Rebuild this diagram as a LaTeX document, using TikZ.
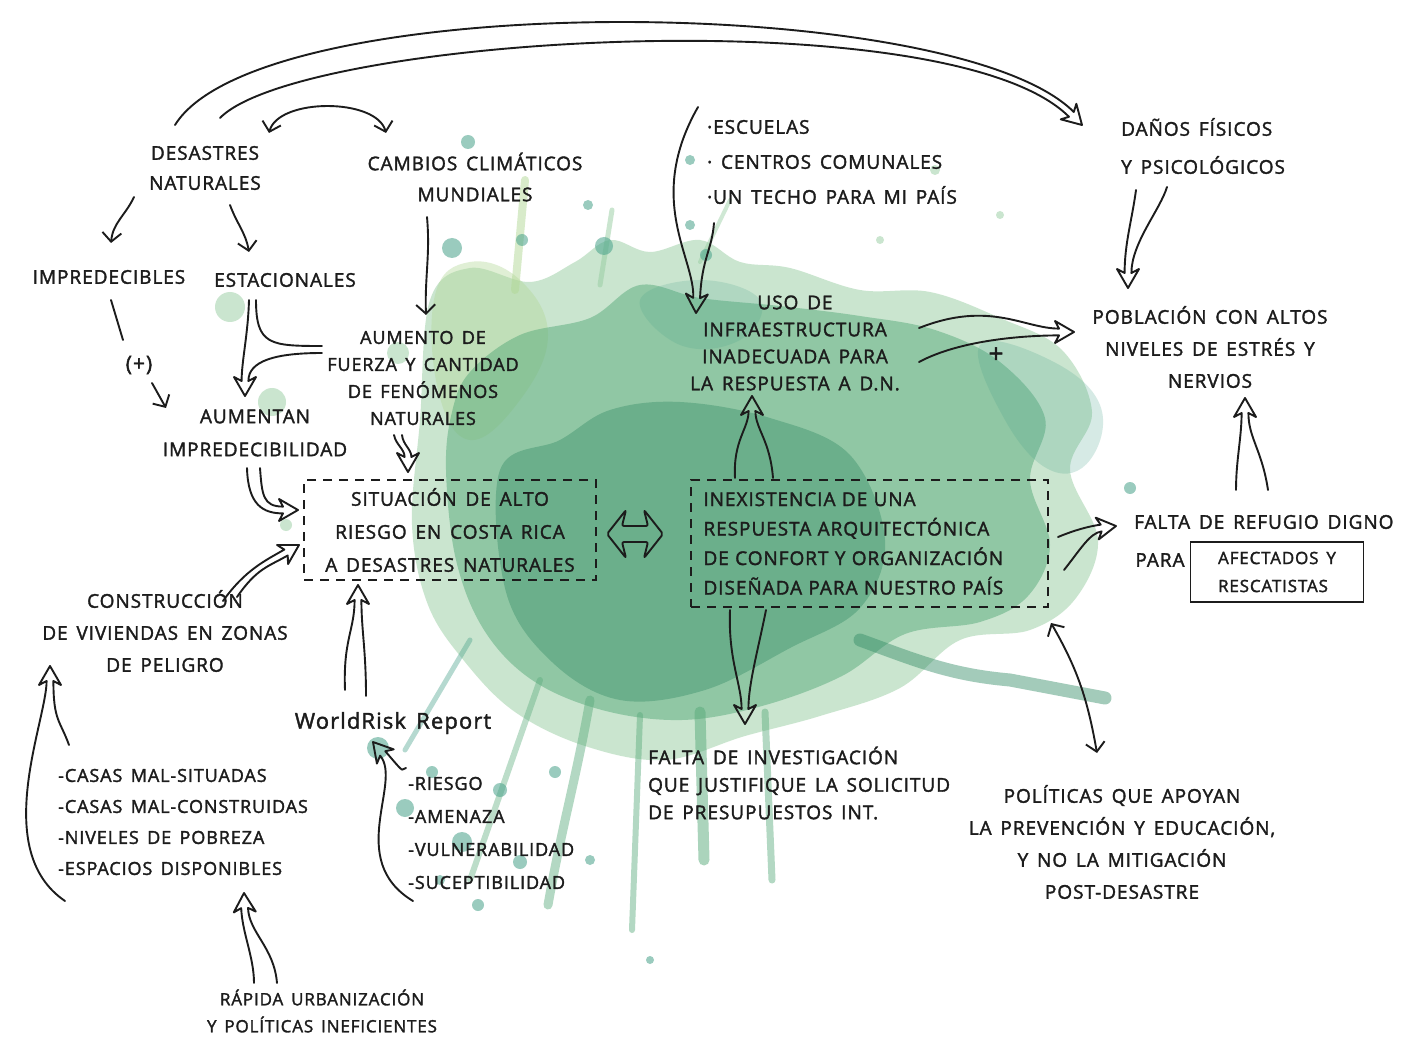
\documentclass[tikz,border=0pt]{standalone}
\usepackage{fontspec}
\setmainfont{Open Sans}[LetterSpace=5,WordSpace=1.5,FakeBold=1.8]
\usetikzlibrary{arrows.meta,calc}
\definecolor{ink}{RGB}{28,28,28}
\definecolor{wcL}{RGB}{150,205,160}
\definecolor{wcM}{RGB}{88,170,122}
\definecolor{wcD}{RGB}{52,140,102}
\definecolor{wcY}{RGB}{178,216,150}
\definecolor{wcT}{RGB}{72,162,138}
\tikzset{
  fs/.style 2 args={font=\fontsize{#1}{#2}\selectfont},
  txt/.style={fs={19}{31}, text=ink, align=center, inner sep=2pt},
  ln/.style={line width=1.9pt, draw=ink, line cap=round, line join=round},
  sarr/.style={ln, -{Straight Barb[length=9pt,width=19pt]}},
  sarrb/.style={ln, {Straight Barb[length=9pt,width=19pt]}-{Straight Barb[length=9pt,width=19pt]}},
  dbox/.style={draw=ink, line width=1.5pt, dash pattern=on 9pt off 7pt},
}
% converging double arrow: s1, c1, s2, c2, direction point, tip, behind
\newcommand{\convarr}[7]{%
  \coordinate (cvT) at (#6);
  \coordinate (cvN) at ($(cvT)!15pt!(#5)$);
  \coordinate (cvB) at ($(cvN)!-#7!(cvT)$);
  \coordinate (cvQ) at ($(cvN)!-4pt!(cvT)$);
  \draw[ln] (#1) .. controls (#2) and ($(cvB)!3.4pt!90:(cvN)$) .. ($(cvN)!3.4pt!90:(cvT)$)
     -- ($(cvQ)!11pt!90:(cvT)$) -- (cvT) -- ($(cvQ)!11pt!-90:(cvT)$)
     -- ($(cvN)!3.4pt!-90:(cvT)$) .. controls ($(cvB)!3.4pt!-90:(cvN)$) and (#4) .. (#3);
}
\begin{document}
\begin{tikzpicture}[x=1pt,y=-1pt]
\useasboundingbox (0,0) rectangle (1408,1040);
\fill[white] (0,0) rectangle (1408,1040);
% ---------------- watercolour splash ----------------
\fill[wcL, opacity=.5] plot[smooth cycle, tension=.6] coordinates {(430,300) (470,268) (530,282) (575,262) (610,240) (650,252) (700,240) (740,262) (790,268) (860,290) (930,292) (1000,318) (1062,350) (1092,412) (1070,470) (1098,540) (1076,598) (1030,630) (960,640) (900,688) (820,716) (745,736) (665,760) (585,746) (515,712) (465,662) (428,605) (412,525) (420,420)};
\fill[wcY, opacity=.4] plot[smooth cycle, tension=.7] coordinates {(435,295) (470,262) (520,280) (548,335) (520,400) (470,440) (438,390)};
\fill[wcM, opacity=.5] plot[smooth cycle, tension=.6] coordinates {(470,372) (520,335) (590,318) (640,285) (700,298) (780,306) (860,316) (935,330) (1000,362) (1045,418) (1030,480) (1050,545) (1028,596) (980,622) (905,634) (842,676) (762,706) (682,720) (602,710) (532,680) (484,630) (456,560) (446,470) (452,412)};
\fill[wcD, opacity=.4] plot[smooth cycle, tension=.6] coordinates {(500,470) (560,440) (610,410) (680,402) (770,418) (850,455) (885,540) (860,608) (790,648) (705,690) (620,700) (552,662) (506,592)};
\fill[wcT, opacity=.22] plot[smooth cycle, tension=.7] coordinates {(980,345) (1050,360) (1100,405) (1090,460) (1050,470) (1005,420)};
\fill[wcT, opacity=.2] plot[smooth cycle, tension=.7] coordinates {(640,300) (700,280) (760,300) (740,340) (680,345)};
\begin{scope}[line cap=round]
  \draw[wcM, opacity=.45, line width=9pt] (590,700) to[out=-100,in=80] (548,905);
  \draw[wcM, opacity=.45, line width=6pt] (640,715) -- (632,930);
  \draw[wcM, opacity=.5, line width=11pt] (700,712) -- (704,860);
  \draw[wcM, opacity=.45, line width=7pt] (765,712) -- (772,880);
  \draw[wcM, opacity=.4, line width=6pt] (540,680) -- (470,880);
  \draw[wcD, opacity=.45, line width=13pt] (860,640) to[out=-20,in=175] (1010,680) -- (1105,698);
  \draw[wcT, opacity=.4, line width=5pt] (470,640) -- (405,750);
  \draw[wcY, opacity=.5, line width=8pt] (515,290) -- (525,180);
  \draw[wcL, opacity=.5, line width=5pt] (600,285) -- (612,210);
  \draw[wcL, opacity=.45, line width=4pt] (700,262) -- (730,200);
\end{scope}
\foreach \x/\y/\r in {468/142/7, 452/248/10, 522/240/6, 604/246/9, 588/205/5, 690/160/5, 690/225/5, 706/255/6, 378/748/11, 405/808/9, 432/772/6, 462/842/10, 520/862/7, 478/905/6, 440/880/5, 500/790/7, 555/772/6, 590/860/5, 1130/488/6, 650/960/4}
  \fill[wcT, opacity=.55] (\x,\y) circle[radius=\r];
\foreach \x/\y/\r in {230/307/15, 272/402/14, 398/353/11, 286/525/6, 935/170/5, 1000/215/4, 880/240/4}
  \fill[wcL, opacity=.5] (\x,\y) circle[radius=\r];
% ---------------- ink ----------------
\node[txt, fs={19}{30}] (des) at (205,168) {DESASTRES\\NATURALES};
\node[txt] (cam) at (475,177) {CAMBIOS CLIMÁTICOS\\MUNDIALES};
\node[txt] (imp) at (109,277) {IMPREDECIBLES};
\node[txt] (est) at (285,280) {ESTACIONALES};
\node[txt, fs={21}{25}] (plus1) at (139,365) {(+)};
\node[txt, fs={19}{33}] (aum) at (255,433) {AUMENTAN\\IMPREDECIBILIDAD};
\node[txt, fs={18}{27}] (aumf) at (423,378) {AUMENTO DE\\FUERZA Y CANTIDAD\\DE FENÓMENOS\\NATURALES};
\node[txt, fs={19}{33}, dbox, minimum width=292pt, minimum height=100pt] (sit) at (450,530) {SITUACIÓN DE ALTO\\RIESGO EN COSTA RICA\\A DESASTRES NATURALES};
\node[txt, align=left, text width=332pt, fs={19}{29.5}, dbox, minimum width=357pt, minimum height=127pt] (inex) at (869.5,543.5) {INEXISTENCIA DE UNA\\RESPUESTA ARQUITECTÓNICA\\DE CONFORT Y ORGANIZACIÓN\\DISEÑADA PARA NUESTRO PAÍS};
\node[txt, fs={19}{27}] (uso) at (795,343) {USO DE\\INFRAESTRUCTURA\\INADECUADA PARA\\LA RESPUESTA A D.N.};
\node[txt, align=left, anchor=west, fs={19}{35}] (esc) at (705,162) {·ESCUELAS\\· CENTROS COMUNALES\\·UN TECHO PARA MI PAÍS};
\node[txt, align=left, anchor=west, fs={19}{38}] (danos) at (1119,146) {DAÑOS FÍSICOS\\Y PSICOLÓGICOS};
\node[txt, fs={19}{32}] (pob) at (1210,347) {POBLACIÓN CON ALTOS\\NIVELES DE ESTRÉS Y\\NERVIOS};
\node[txt, fs={26}{30}] (plus2) at (996,355) {+};
\node[txt, anchor=west] (falta) at (1132,522) {FALTA DE REFUGIO DIGNO};
\node[txt] (para) at (1160,560) {PARA};
\node[txt, align=left, fs={17}{28}, draw=ink, line width=1.5pt, minimum width=173pt, minimum height=60pt] (afect) at (1277,572) {AFECTADOS Y\\RESCATISTAS};
\node[txt, align=left, anchor=west, fs={19}{27.5}] (inv) at (646,783) {FALTA DE INVESTIGACIÓN\\QUE JUSTIFIQUE LA SOLICITUD\\DE PRESUPUESTOS INT.};
\node[txt, fs={19}{32}] (pol) at (1122,842) {POLÍTICAS QUE APOYAN\\LA PREVENCIÓN Y EDUCACIÓN,\\Y NO LA MITIGACIÓN\\POST-DESASTRE};
\node[txt, fs={19}{32}] (cons) at (165,631) {CONSTRUCCIÓN\\DE VIVIENDAS EN ZONAS\\DE PELIGRO};
\node[txt, align=left, anchor=west, fs={18}{31}] (casas) at (56,822) {-CASAS MAL-SITUADAS\\-CASAS MAL-CONSTRUIDAS\\-NIVELES DE POBREZA\\-ESPACIOS DISPONIBLES};
\node[txt, fs={22}{26}] (wrr) at (393,723) {WorldRisk Report};
\node[txt, align=left, anchor=west, fs={18}{33}] (rie) at (406,833) {-RIESGO\\-AMENAZA\\-VULNERABILIDAD\\-SUCEPTIBILIDAD};
\node[txt, fs={17}{27}] (rap) at (322,1011) {RÁPIDA URBANIZACIÓN\\Y POLÍTICAS INEFICIENTES};
% ---- connectors ----
% big arc DESASTRES => DAÑOS
\convarr{[shift={(-30,-43)}]des.center}{260,-12}{[shift={(15,-50)}]des.center}{300,36}{[shift={(-59,-43)}]danos.west}{[shift={(-37,-21)}]danos.west}{170pt}
% DESASTRES <-> CAMBIOS
\draw[sarrb] ([shift={(64,-35)}]des.center) to[out=75,in=105,looseness=.8] ([shift={(-89,-44)}]cam.center);
\draw[sarr] ([shift={(-71,29)}]des.center) to[out=-115,in=85] ([shift={(2,-34)}]imp.center);
\draw[sarr] ([shift={(25,37)}]des.center) to[out=-70,in=100] ([shift={(-36,-28)}]est.center);
\draw[sarr] ([shift={(-48,40)}]cam.center) to[out=-85,in=92] ([shift={(3,-63)}]aumf.center);
\draw[ln] ([shift={(2,23)}]imp.center) -- ([shift={(-16,-25)}]plus1.center);
\draw[sarr] ([shift={(13,18)}]plus1.center) -- ([shift={(-89,-25)}]aum.center);
% ESTACIONALES + AUMENTO => AUMENTAN
\convarr{[shift={(-101,-25)}]aumf.center}{[shift={(-148,-25)}]aumf.center}{[shift={(-36,20)}]est.center}{[shift={(-37,55)}]est.center}{[shift={(-10,-63)}]aum.center}{[shift={(-10,-37)}]aum.center}{20pt}
\draw[ln] ([shift={(-29,20)}]est.center) .. controls ([shift={(-29,65)}]est.center) and ([shift={(-153,-32)}]aumf.center) .. ([shift={(-101,-32)}]aumf.center);
% into SITUACION
\convarr{[shift={(5,35)}]aum.center}{[shift={(7,62)}]aum.center}{[shift={(-8,35)}]aum.center}{[shift={(-7,72)}]aum.center}{[shift={(-175,-20)}]sit.center}{[shift={(-152,-20)}]sit.center}{20pt}
\convarr{[shift={(-21,57)}]aumf.center}{[shift={(-20,67)}]aumf.center}{[shift={(-29,57)}]aumf.center}{[shift={(-27,67)}]aumf.center}{[shift={(-42,-80)}]sit.center}{[shift={(-42,-58)}]sit.center}{8pt}
\convarr{[shift={(58,-30)}]cons.center}{[shift={(80,-61)}]cons.center}{[shift={(72,-34)}]cons.center}{[shift={(92,-63)}]cons.center}{[shift={(-170,26)}]sit.center}{[shift={(-151,15)}]sit.center}{22pt}
\convarr{[shift={(-48,-33)}]wrr.center}{[shift={(-50,-83)}]wrr.center}{[shift={(-27,-27)}]wrr.center}{[shift={(-27,-73)}]wrr.center}{[shift={(-92,80)}]sit.center}{[shift={(-92,55)}]sit.center}{30pt}
% SITUACION <=> INEXISTENCIA
\draw[ln, rounded corners=2pt, shift={(sit.center)}] (172,-4) -- (198,-4) -- (194,-20) -- (213,4) -- (194,28) -- (198,12) -- (172,12) -- (176,28) -- (157,4) -- (176,-20) -- cycle;
% INEXISTENCIA => USO
\convarr{[shift={(-134.5,-65.5)}]inex.center}{[shift={(-136.5,-103.5)}]inex.center}{[shift={(-96.5,-65.5)}]inex.center}{[shift={(-99.5,-103.5)}]inex.center}{[shift={(-43,77)}]uso.center}{[shift={(-43,53)}]uso.center}{18pt}
% ESCUELAS => USO
\convarr{[shift={(9,61)}]esc.west}{[shift={(7,88)}]esc.west}{[shift={(-7,-55)}]esc.west}{[shift={(-60,38)}]esc.west}{[shift={(-98,-53)}]uso.center}{[shift={(-99,-30)}]uso.center}{40pt}
% USO => POBLACION
\convarr{[shift={(124,-15)}]uso.center}{[shift={(195,-43)}]uso.center}{[shift={(124,19)}]uso.center}{[shift={(165,-3)}]uso.center}{[shift={(-162,-15)}]pob.center}{[shift={(-136,-15)}]pob.center}{35pt}
% DAÑOS => POBLACION
\convarr{[shift={(48,41)}]danos.west}{[shift={(41,64)}]danos.west}{[shift={(17,44)}]danos.west}{[shift={(13,74)}]danos.west}{[shift={(-82,-85)}]pob.center}{[shift={(-82,-59)}]pob.center}{30pt}
% FALTA DE REFUGIO => POBLACION
\convarr{[shift={(104,-32)}]falta.west}{[shift={(104,-62)}]falta.west}{[shift={(136,-32)}]falta.west}{[shift={(130,-72)}]falta.west}{[shift={(35,75)}]pob.center}{[shift={(35,51)}]pob.center}{25pt}
% INEXISTENCIA => FALTA DE REFUGIO
\convarr{[shift={(188.5,-6.5)}]inex.center}{[shift={(205.5,-13.5)}]inex.center}{[shift={(194.5,26.5)}]inex.center}{[shift={(210.5,6.5)}]inex.center}{[shift={(-38,7)}]falta.west}{[shift={(-16,4)}]falta.west}{12pt}
% INEXISTENCIA => FALTA DE INVESTIGACION
\convarr{[shift={(-103.5,66.5)}]inex.center}{[shift={(-111.5,106.5)}]inex.center}{[shift={(-139.5,66.5)}]inex.center}{[shift={(-141.5,116.5)}]inex.center}{[shift={(99,-83)}]inv.west}{[shift={(99,-59)}]inv.west}{25pt}
% POLITICAS <-> INEXISTENCIA
\draw[sarrb] ([shift={(181.5,79.5)}]inex.center) to[out=-60,in=100] ([shift={(-25,-89)}]pol.center);
% CASAS => CONSTRUCCION
\convarr{[shift={(9,79)}]casas.west}{[shift={(-66,28)}]casas.west}{[shift={(13,-77)}]casas.west}{[shift={(4,-102)}]casas.west}{[shift={(-115,59)}]cons.center}{[shift={(-115,35)}]cons.center}{40pt}
% RIESGO list => WorldRisk
\convarr{[shift={(7,68)}]rie.west}{[shift={(-61,27)}]rie.west}{[shift={(0,-65)}]rie.west}{[shift={(-6,-65)}]rie.west}{[shift={(-3,39)}]wrr.center}{[shift={(-20,19)}]wrr.center}{35pt}
% RAPIDA => CASAS
\convarr{[shift={(-68,-28)}]rap.center}{[shift={(-68,-54)}]rap.center}{[shift={(-45,-28)}]rap.center}{[shift={(-48,-64)}]rap.center}{[shift={(189,96)}]casas.west}{[shift={(188,71)}]casas.west}{25pt}
\end{tikzpicture}
\end{document}
